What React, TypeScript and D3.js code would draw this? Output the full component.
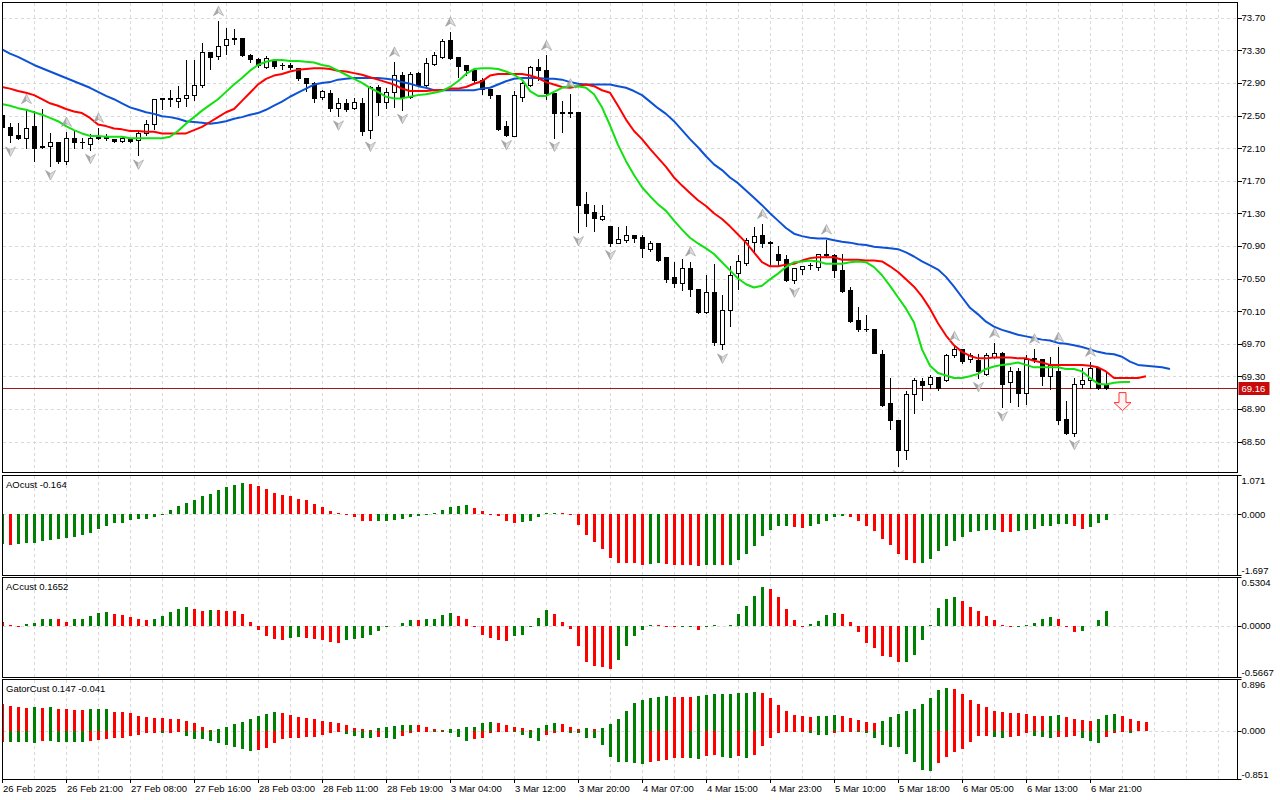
import * as React from 'react';
import * as d3 from 'd3';

// ---- data (H1 bars, index 0 = 26 Feb 2025) ----
const open = [72.51,72.36,72.26,72.23,72.37,72.13,72.13,72.18,71.94,72.23,
 72.17,72.15,72.22,72.23,72.21,72.19,72.22,72.20,72.29,72.40,
 72.70,72.71,72.68,72.71,72.75,72.88,73.28,73.23,73.36,73.44,
 73.45,73.24,73.19,73.10,73.17,73.12,73.12,73.08,72.96,72.90,
 72.73,72.77,72.59,72.65,72.59,72.65,72.32,72.85,72.66,72.79,
 73.00,72.73,73.02,72.87,73.13,73.22,73.43,73.22,73.12,73.06,
 72.94,72.83,72.75,72.37,72.25,72.73,72.87,73.10,73.06,72.77,
 72.54,72.53,72.54,71.42,71.31,71.23,71.15,70.94,70.97,71.03,
 71.01,70.86,70.94,70.76,70.52,70.45,70.63,70.37,70.09,70.34,
 69.70,70.11,70.57,70.69,70.95,71.03,70.94,70.80,70.74,70.48,
 70.62,70.66,70.64,70.80,70.79,70.60,70.36,69.99,69.88,69.88,
 69.57,68.97,68.76,68.40,69.08,69.24,69.20,69.29,69.25,69.56,
 69.63,69.51,69.50,69.33,69.54,69.58,69.23,69.36,69.09,69.51,
 69.51,69.30,69.37,68.78,68.60,69.20,69.26,69.40,69.20]
const high = [72.55,72.42,72.42,72.59,72.57,72.59,72.30,72.19,72.31,72.32,
 72.24,72.28,72.36,72.28,72.22,72.25,72.24,72.33,72.46,72.70,
 72.72,72.82,72.88,73.19,73.19,73.40,73.28,73.67,73.58,73.57,
 73.45,73.27,73.22,73.24,73.20,73.16,73.16,73.10,72.97,72.92,
 72.83,72.83,72.73,72.71,72.73,72.73,72.87,72.89,72.85,73.17,
 73.04,73.04,73.04,73.22,73.29,73.45,73.54,73.22,73.12,73.08,
 72.97,72.84,72.75,72.45,72.81,72.92,73.12,73.20,73.25,72.78,
 72.69,72.78,72.54,71.57,71.41,71.41,71.15,71.15,71.16,71.05,
 71.05,70.97,70.94,70.76,70.71,70.75,70.72,70.37,70.56,70.69,
 70.31,70.66,70.80,71.01,71.15,71.18,70.97,70.91,70.80,70.64,
 70.66,70.70,70.81,70.99,70.81,70.81,70.41,70.16,70.07,69.88,
 69.63,69.29,68.76,69.13,69.29,69.29,69.33,69.29,69.59,69.68,
 69.65,69.60,69.58,69.60,69.72,69.61,69.43,69.41,69.57,69.65,
 69.52,69.55,69.67,69.01,69.29,69.41,69.49,69.43,69.37]
const low = [72.30,72.17,72.21,72.10,71.94,72.10,71.88,71.92,71.90,72.10,
 72.10,72.08,72.21,72.20,72.18,72.17,72.17,72.01,72.26,72.34,
 72.58,72.62,72.61,72.62,72.69,72.85,73.07,73.19,73.25,73.38,
 73.23,73.16,73.10,73.08,73.08,73.07,73.07,72.94,72.80,72.66,
 72.70,72.55,72.49,72.55,72.58,72.26,72.23,72.51,72.59,72.60,
 72.57,72.71,72.86,72.85,73.12,73.20,73.19,72.97,73.00,72.90,
 72.76,72.71,72.32,72.25,72.25,72.68,72.86,72.93,72.70,72.23,
 72.30,72.48,71.07,71.14,71.08,71.22,70.90,70.93,70.95,70.95,
 70.76,70.84,70.72,70.46,70.39,70.36,70.29,70.08,70.08,69.68,
 69.63,69.92,70.37,70.66,70.84,70.89,70.66,70.66,70.47,70.44,
 70.56,70.62,70.61,70.78,70.52,70.34,69.97,69.86,69.86,69.58,
 68.94,68.65,68.20,68.29,68.85,69.01,69.16,69.13,69.24,69.54,
 69.46,69.47,69.28,69.32,69.53,68.92,68.98,68.93,68.96,69.47,
 69.19,69.14,68.71,68.59,68.57,69.16,69.16,69.14,69.14]
const close = [72.36,72.26,72.23,72.35,72.10,72.11,72.18,71.94,72.22,72.17,
 72.17,72.22,72.24,72.24,72.19,72.22,72.19,72.29,72.39,72.70,
 72.71,72.70,72.72,72.75,72.87,73.28,73.22,73.35,73.44,73.45,
 73.24,73.19,73.12,73.20,73.11,73.12,73.09,72.96,72.90,72.72,
 72.80,72.59,72.65,72.58,72.66,72.31,72.85,72.66,72.79,73.00,
 72.73,73.01,72.87,73.14,73.24,73.42,73.20,73.11,73.06,72.93,
 72.82,72.75,72.34,72.26,72.75,72.90,73.10,73.06,72.77,72.53,
 72.53,72.54,71.40,71.30,71.24,71.27,70.93,70.98,71.03,71.00,
 70.87,70.94,70.73,70.50,70.45,70.63,70.37,70.09,70.34,69.72,
 70.11,70.54,70.71,70.97,71.02,70.93,70.95,70.73,70.48,70.63,
 70.65,70.66,70.80,70.79,70.60,70.35,69.98,69.88,69.88,69.59,
 68.95,68.76,68.39,69.08,69.25,69.19,69.29,69.16,69.56,69.63,
 69.49,69.56,69.37,69.56,69.58,69.21,69.36,69.10,69.51,69.52,
 69.30,69.44,68.76,68.60,69.20,69.26,69.40,69.16,69.16]

// Alligator lines, already at their shifted bar positions
const jaw = [73.31,73.26,73.22,73.17,73.12,73.08,73.04,73.00,72.96,72.92,
 72.88,72.84,72.79,72.74,72.70,72.65,72.60,72.57,72.54,72.52,
 72.49,72.48,72.46,72.43,72.42,72.41,72.40,72.41,72.43,72.46,
 72.48,72.51,72.53,72.57,72.62,72.67,72.73,72.78,72.83,72.88,
 72.90,72.91,72.94,72.95,72.96,72.96,72.96,72.96,72.95,72.94,
 72.91,72.89,72.86,72.84,72.81,72.81,72.81,72.81,72.81,72.81,
 72.83,72.84,72.88,72.92,72.95,72.96,72.96,72.96,72.95,72.95,
 72.94,72.91,72.89,72.88,72.88,72.88,72.88,72.86,72.84,72.80,
 72.75,72.67,72.59,72.52,72.43,72.32,72.21,72.11,72.00,71.90,
 71.83,71.74,71.67,71.58,71.49,71.40,71.30,71.21,71.12,71.05,
 71.02,71.00,70.99,70.99,70.97,70.95,70.94,70.92,70.91,70.89,
 70.88,70.87,70.86,70.82,70.77,70.71,70.66,70.61,70.52,70.40,
 70.27,70.14,70.06,69.97,69.91,69.87,69.84,69.81,69.79,69.77,
 69.75,69.74,69.71,69.70,69.68,69.66,69.63,69.60,69.58,69.57,
 69.54,69.48,69.44,69.43,69.42,69.41,69.39]
const teeth = [72.85,72.83,72.80,72.78,72.75,72.70,72.65,72.62,72.58,72.55,
 72.53,72.47,72.39,72.37,72.34,72.33,72.31,72.31,72.30,72.30,
 72.28,72.28,72.28,72.28,72.32,72.36,72.42,72.48,72.54,72.58,
 72.68,72.78,72.88,72.95,72.99,73.01,73.04,73.06,73.07,73.08,
 73.08,73.07,73.05,73.04,73.02,73.00,72.97,72.94,72.91,72.88,
 72.83,72.80,72.80,72.80,72.81,72.81,72.83,72.83,72.85,72.89,
 72.92,72.99,73.01,73.01,73.01,73.01,72.99,72.96,72.91,72.88,
 72.85,72.84,72.86,72.88,72.86,72.81,72.78,72.62,72.45,72.31,
 72.21,72.09,71.98,71.87,71.74,71.64,71.55,71.46,71.39,71.30,
 71.23,71.14,71.04,70.94,70.82,70.70,70.65,70.65,70.67,70.68,
 70.72,70.75,70.76,70.76,70.76,70.73,70.73,70.73,70.72,70.72,
 70.71,70.65,70.58,70.49,70.40,70.28,70.13,69.95,69.80,69.68,
 69.60,69.55,69.52,69.52,69.53,69.53,69.53,69.52,69.52,69.49,
 69.47,69.44,69.44,69.44,69.44,69.44,69.43,69.41,69.36,69.28,
 69.28,69.28,69.28,69.30]
const lips = [72.64,72.62,72.59,72.57,72.54,72.51,72.47,72.43,72.37,72.32,
 72.28,72.25,72.25,72.24,72.24,72.24,72.22,72.22,72.22,72.22,
 72.22,72.24,72.31,72.40,72.48,72.56,72.63,72.70,72.79,72.88,
 72.96,73.05,73.12,73.16,73.18,73.18,73.17,73.17,73.16,73.15,
 73.12,73.10,73.05,73.00,72.95,72.90,72.84,72.79,72.73,72.71,
 72.71,72.73,72.75,72.76,72.78,72.80,72.85,72.92,73.01,73.07,
 73.08,73.08,73.07,73.04,73.00,72.94,72.80,72.74,72.74,72.79,
 72.84,72.86,72.86,72.84,72.76,72.60,72.38,72.14,71.94,71.77,
 71.62,71.51,71.41,71.33,71.21,71.10,71.00,70.93,70.87,70.80,
 70.70,70.60,70.50,70.43,70.39,70.41,70.49,70.56,70.64,70.70,
 70.71,70.72,70.71,70.68,70.68,70.68,70.70,70.71,70.70,70.64,
 70.54,70.41,70.27,70.13,69.96,69.63,69.43,69.34,69.31,69.28,
 69.28,69.30,69.33,69.39,69.42,69.44,69.45,69.47,69.44,69.41,
 69.41,69.41,69.41,69.39,69.39,69.36,69.28,69.21,69.20,69.22,
 69.23,69.23]

const fractalUp = [3, 8, 12, 27, 49, 56, 68, 71, 86, 95, 103, 119, 124, 129, 132, 136]
const fractalDown = [1, 6, 11, 17, 42, 46, 50, 63, 69, 72, 76, 90, 99, 112, 122, 125, 134]

const sellSignalBar = 140
const sellSignalPrice = 69.10
const lastPrice = 69.16

const aoValues = [-0.82,-0.85,-0.82,-0.80,-0.79,-0.74,-0.72,-0.69,-0.66,-0.62,
 -0.57,-0.51,-0.42,-0.33,-0.25,-0.23,-0.16,-0.14,-0.135,-0.08,
 -0.02,0.11,0.23,0.31,0.40,0.49,0.57,0.68,0.75,0.81,
 0.85,0.84,0.77,0.70,0.60,0.54,0.49,0.42,0.38,0.28,
 0.21,0.09,0.02,-0.03,-0.08,-0.18,-0.20,-0.19,-0.18,-0.17,
 -0.12,-0.08,-0.06,-0.02,0.02,0.12,0.21,0.24,0.25,0.17,
 0.09,-0.01,-0.06,-0.18,-0.23,-0.22,-0.20,-0.08,0.03,0.035,
 0.02,-0.03,-0.30,-0.57,-0.76,-0.96,-1.22,-1.34,-1.35,-1.36,
 -1.40,-1.38,-1.34,-1.38,-1.395,-1.40,-1.41,-1.43,-1.41,-1.40,
 -1.42,-1.40,-1.27,-1.09,-0.88,-0.60,-0.43,-0.34,-0.335,-0.36,
 -0.37,-0.33,-0.26,-0.18,-0.09,-0.04,-0.09,-0.18,-0.34,-0.46,
 -0.69,-0.86,-1.10,-1.27,-1.36,-1.34,-1.25,-1.03,-0.88,-0.74,
 -0.62,-0.49,-0.46,-0.45,-0.43,-0.49,-0.50,-0.46,-0.45,-0.41,
 -0.34,-0.33,-0.27,-0.265,-0.33,-0.41,-0.36,-0.25,-0.164]
const acValues = [0.045,0.01,-0.005,0.018,0.036,0.071,0.073,0.070,0.045,0.071,
 0.073,0.107,0.142,0.151,0.125,0.120,0.098,0.071,0.062,0.080,
 0.107,0.151,0.187,0.205,0.187,0.160,0.178,0.169,0.167,0.165,
 0.125,0.045,-0.045,-0.107,-0.142,-0.151,-0.134,-0.125,-0.134,-0.142,
 -0.160,-0.178,-0.187,-0.160,-0.142,-0.134,-0.098,-0.053,-0.018,0.003,
 0.036,0.062,0.061,0.071,0.073,0.116,0.142,0.107,0.071,-0.009,
 -0.098,-0.134,-0.160,-0.165,-0.107,-0.098,-0.018,0.089,0.169,0.125,
 0.045,-0.036,-0.223,-0.392,-0.436,-0.449,-0.472,-0.374,-0.223,-0.107,
 -0.045,0.009,0.004,-0.009,-0.018,-0.016,-0.013,-0.045,0.000,0.004,
 0.002,0.009,0.125,0.223,0.329,0.427,0.400,0.320,0.187,0.062,
 0.000,0.018,0.053,0.116,0.142,0.125,0.045,-0.071,-0.187,-0.240,
 -0.329,-0.347,-0.400,-0.398,-0.320,-0.160,0.009,0.196,0.294,0.312,
 0.276,0.205,0.160,0.107,0.062,0.009,-0.018,-0.009,0.009,0.027,
 0.071,0.098,0.071,-0.009,-0.071,-0.053,0.003,0.062,0.1652]
const gatorUpper = [0.461,0.435,0.409,0.392,0.409,0.392,0.409,0.383,0.374,0.370,
 0.357,0.374,0.376,0.378,0.331,0.322,0.305,0.261,0.235,0.226,
 0.224,0.200,0.198,0.174,0.131,0.061,0.009,0.026,0.070,0.113,
 0.157,0.200,0.252,0.287,0.322,0.309,0.270,0.235,0.218,0.200,
 0.174,0.157,0.131,0.096,0.052,0.026,0.009,0.044,0.061,0.078,
 0.096,0.100,0.096,0.061,0.026,0.022,0.024,0.030,0.070,0.074,
 0.139,0.157,0.139,0.096,0.070,0.052,0.009,0.044,0.096,0.131,
 0.113,0.061,0.026,0.044,0.026,0.052,0.113,0.200,0.339,0.479,
 0.539,0.574,0.592,0.600,0.596,0.592,0.587,0.600,0.622,0.635,
 0.637,0.644,0.653,0.661,0.670,0.666,0.566,0.448,0.339,0.274,
 0.257,0.235,0.257,0.265,0.270,0.257,0.226,0.183,0.157,0.144,
 0.170,0.235,0.291,0.344,0.378,0.465,0.566,0.713,0.740,0.722,
 0.639,0.539,0.461,0.409,0.348,0.326,0.309,0.305,0.287,0.261,
 0.257,0.261,0.270,0.239,0.204,0.183,0.174,0.204,0.274,0.287,
 0.261,0.204,0.165,0.147]
const gatorLower = [-0.191,-0.193,-0.194,-0.196,-0.221,-0.180,-0.184,-0.191,-0.193,-0.195,
 -0.204,-0.180,-0.163,-0.145,-0.134,-0.123,-0.087,-0.076,-0.047,-0.035,
 -0.047,-0.035,-0.017,-0.087,-0.145,-0.151,-0.180,-0.221,-0.251,-0.285,
 -0.326,-0.355,-0.338,-0.297,-0.221,-0.151,-0.134,-0.123,-0.110,-0.104,
 -0.076,-0.047,-0.029,-0.052,-0.087,-0.123,-0.134,-0.110,-0.134,-0.145,
 -0.087,-0.047,-0.017,-0.006,-0.008,-0.017,-0.047,-0.104,-0.174,-0.145,
 -0.123,-0.047,-0.029,-0.017,-0.029,-0.076,-0.134,-0.180,-0.076,-0.035,
 -0.029,-0.030,-0.035,-0.123,-0.134,-0.251,-0.461,-0.539,-0.545,-0.566,
 -0.588,-0.539,-0.531,-0.513,-0.483,-0.470,-0.483,-0.500,-0.435,-0.426,
 -0.465,-0.470,-0.448,-0.483,-0.426,-0.274,-0.134,-0.035,-0.017,-0.017,
 -0.006,-0.047,-0.076,-0.078,-0.035,-0.029,-0.006,-0.029,-0.047,-0.134,
 -0.250,-0.280,-0.291,-0.414,-0.542,-0.687,-0.699,-0.571,-0.454,-0.379,
 -0.320,-0.192,-0.093,-0.090,-0.105,-0.122,-0.105,-0.087,-0.047,-0.087,
 -0.105,-0.122,-0.111,-0.105,-0.087,-0.122,-0.181,-0.210,-0.105,-0.035,
 -0.029,-0.041]

const priceTicks = [73.70, 73.30, 72.90, 72.50, 72.10, 71.70, 71.30, 70.90, 70.50, 70.10, 69.70, 69.30, 68.90, 68.50]
const timeTickBars = [0, 8, 16, 24, 32, 40, 48, 56, 64, 72, 80, 88, 96, 104, 112, 120, 128, 136]
const timeTickLabels = ['26 Feb 2025', '26 Feb 21:00', '27 Feb 08:00', '27 Feb 16:00', '28 Feb 03:00',
  '28 Feb 11:00', '28 Feb 19:00', '3 Mar 04:00', '3 Mar 12:00', '3 Mar 20:00', '4 Mar 07:00',
  '4 Mar 15:00', '4 Mar 23:00', '5 Mar 10:00', '5 Mar 18:00', '6 Mar 05:00', '6 Mar 13:00', '6 Mar 21:00']

// ---- layout ----
const left = 2.5
const right = 1237.5
const panels = {
  main: { top: 2.5, bottom: 472.5 },
  ao: { top: 475.5, bottom: 575.5 },
  ac: { top: 577.5, bottom: 677.5 },
  gator: { top: 679.5, bottom: 779.5 },
}
const font = '"Liberation Sans", Arial, sans-serif'
const fs = 9.5
const gridColor = '#d9d9d9'
const upColor = '#008000'
const downColor = '#ff0000'

const x = d3.scaleLinear().domain([0, 154]).range([2, 2 + 8 * 154])
const yPrice = d3.scaleLinear().domain([68.5, 73.7]).range([441.5, 17.7])
const yAO = d3.scaleLinear().domain([-1.697, 1.071]).range([panels.ao.bottom, panels.ao.top])
const yAC = d3.scaleLinear().domain([-0.5667, 0.5304]).range([panels.ac.bottom, panels.ac.top])
const yGator = d3.scaleLinear().domain([-0.851, 0.896]).range([panels.gator.bottom, panels.gator.top])

const snap = (v: number) => Math.round(v) + 0.5

// vertical grid every 4 bars
const gridBars = d3.range(4, 155, 4).filter(i => x(i) < right - 2)

const Grid = ({ top, bottom }: { top: number, bottom: number }) => (
  <g stroke={gridColor} strokeDasharray="3,3" shapeRendering="crispEdges">
    {gridBars.map(i => <line key={i} x1={x(i) + 0.5} x2={x(i) + 0.5} y1={top} y2={bottom} />)}
  </g>
)

const Histogram = (props: { values: number[], y: d3.ScaleLinear<number, number>, firstUp: boolean, absolute?: boolean }) => {
  const { values, y, firstUp, absolute } = props
  const y0 = y(0)
  return (
    <g shapeRendering="crispEdges">
      {values.map((v, i) => {
        let up = firstUp
        if (i > 0) up = absolute ? Math.abs(v) > Math.abs(values[i - 1]) : v > values[i - 1]
        const yv = y(v)
        return <rect key={i} x={x(i) - 1} width={3} y={Math.min(y0, yv)} height={Math.max(Math.abs(yv - y0), 0.8)}
          fill={up ? upColor : downColor} />
      })}
    </g>
  )
}

const FractalArrow = ({ cx, cy, up }: { cx: number, cy: number, up: boolean }) => {
  const s = up ? 1 : -1
  const tip = -5 * s, base = 4.5 * s, notch = 1.5 * s
  return (
    <g transform={`translate(${cx},${cy})`}>
      <path d={`M0,${tip}L-5,${base}L0,${notch}Z`} fill="#a9a9a9" />
      <path d={`M0,${tip}L5,${base}L0,${notch}Z`} fill="#dcdcdc" />
      <path d={`M0,${tip}L-5,${base}L0,${notch}L5,${base}Z`} fill="none" stroke="#8c8c8c" strokeWidth={0.5} />
    </g>
  )
}

const AxisLabels = (props: { y: d3.ScaleLinear<number, number>, top: string, zero: string, bottom: string, panel: { top: number, bottom: number } }) => {
  const { y, top, zero, bottom, panel } = props
  return (
    <g fontFamily={font} fontSize={fs} fill="#000">
      <line x1={right} x2={right + 4} y1={panel.top} y2={panel.top} stroke="#000" />
      <text x={right + 4} y={panel.top + 8.5}>{top}</text>
      <line x1={right} x2={right + 4} y1={snap(y(0))} y2={snap(y(0))} stroke="#000" />
      <text x={right + 4} y={y(0) + 3.5}>{zero}</text>
      <line x1={right} x2={right + 4} y1={panel.bottom} y2={panel.bottom} stroke="#000" />
      <text x={right + 4} y={panel.bottom - 2}>{bottom}</text>
    </g>
  )
}

export default function App() {
  const clipId = 'mainClip'
  const line = (data: number[]) => d3.line<number>().x((_, i) => x(i)).y(d => yPrice(d))(data) || ''
  const pY = yPrice(lastPrice)
  const sx = x(sellSignalBar) + 0.5
  const sy = yPrice(sellSignalPrice)

  return (
    <div style={{ position: 'absolute', left: 0, top: 0 }}>
      <svg width={1280} height={800} style={{ display: 'block', background: '#fff' }}>
        <defs>
          <clipPath id={clipId}>
            <rect x={left + 0.5} y={panels.main.top + 0.5} width={right - left - 1} height={panels.main.bottom - panels.main.top - 1} />
          </clipPath>
          {(['ao', 'ac', 'gator'] as const).map(k => (
            <clipPath id={`clip-${k}`} key={k}>
              <rect x={left + 0.5} y={panels[k].top + 0.5} width={right - left - 1} height={panels[k].bottom - panels[k].top - 1} />
            </clipPath>
          ))}
        </defs>

        {/* main price panel */}
        <Grid top={panels.main.top} bottom={panels.main.bottom} />
        <g stroke={gridColor} strokeDasharray="3,3" shapeRendering="crispEdges">
          {priceTicks.map(p => <line key={p} x1={left} x2={right} y1={snap(yPrice(p))} y2={snap(yPrice(p))} />)}
        </g>

        <g clipPath={`url(#${clipId})`}>
          <line x1={left} x2={right} y1={snap(pY)} y2={snap(pY)} stroke="#a01818" shapeRendering="crispEdges" />
          <g shapeRendering="crispEdges" stroke="#000">
            {open.map((o, i) => {
              const c = close[i]
              const cx = x(i) + 0.5
              const top = snap(yPrice(Math.max(o, c)))
              const bot = snap(yPrice(Math.min(o, c)))
              return (
                <g key={i}>
                  <line x1={cx} x2={cx} y1={snap(yPrice(high[i]))} y2={snap(yPrice(low[i]))} />
                  {bot - top < 1
                    ? <line x1={cx - 2.5} x2={cx + 2.5} y1={top} y2={top} />
                    : <rect x={cx - 2} y={top} width={4} height={bot - top} fill={c >= o ? '#fff' : '#000'} />}
                </g>
              )
            })}
          </g>
          <g fill="none" strokeWidth={2} strokeLinejoin="round">
            <path d={line(jaw)} stroke="#0d52d6" />
            <path d={line(teeth)} stroke="#ff0000" />
            <path d={line(lips)} stroke="#11e011" />
          </g>
          {fractalUp.map(i => <FractalArrow key={'u' + i} cx={x(i) + 0.5} cy={yPrice(high[i]) - 9} up={true} />)}
          {fractalDown.map(i => <FractalArrow key={'d' + i} cx={x(i) + 0.5} cy={yPrice(low[i]) + 9} up={false} />)}
          <path d={`M${sx - 3.5},${sy}H${sx + 3.5}V${sy + 10}H${sx + 8.5}L${sx},${sy + 18}L${sx - 8.5},${sy + 10}H${sx - 3.5}Z`}
            fill="#fff2f2" stroke="#ff3030" strokeWidth={1} />
        </g>
        <rect x={left} y={panels.main.top} width={right - left} height={panels.main.bottom - panels.main.top}
          fill="none" stroke="#000" shapeRendering="crispEdges" />

        {/* price axis */}
        <g fontFamily={font} fontSize={fs}>
          {priceTicks.map(p => (
            <g key={p}>
              <line x1={right} x2={right + 4} y1={snap(yPrice(p))} y2={snap(yPrice(p))} stroke="#000" shapeRendering="crispEdges" />
              <text x={right + 4} y={yPrice(p) + 3.5}>{p.toFixed(2)}</text>
            </g>
          ))}
          <rect x={right + 1} y={snap(pY) - 6.5} width={31} height={13} fill="#c80a0a" />
          <text x={right + 4} y={pY + 4} fill="#fff">{lastPrice.toFixed(2)}</text>
        </g>

        {/* AO panel */}
        <Grid top={panels.ao.top} bottom={panels.ao.bottom} />
        <line x1={left} x2={right} y1={snap(yAO(0))} y2={snap(yAO(0))} stroke={gridColor} strokeDasharray="3,3" shapeRendering="crispEdges" />
        <g clipPath="url(#clip-ao)"><Histogram values={aoValues} y={yAO} firstUp={true} /></g>
        <rect x={left} y={panels.ao.top} width={right - left} height={panels.ao.bottom - panels.ao.top} fill="none" stroke="#000" shapeRendering="crispEdges" />
        <text x={6} y={488} fontFamily={font} fontSize={fs}>{`AOcust ${aoValues[aoValues.length - 1]}`}</text>
        <AxisLabels y={yAO} top="1.071" zero="0.000" bottom="-1.697" panel={panels.ao} />

        {/* AC panel */}
        <Grid top={panels.ac.top} bottom={panels.ac.bottom} />
        <line x1={left} x2={right} y1={snap(yAC(0))} y2={snap(yAC(0))} stroke={gridColor} strokeDasharray="3,3" shapeRendering="crispEdges" />
        <g clipPath="url(#clip-ac)"><Histogram values={acValues} y={yAC} firstUp={false} /></g>
        <rect x={left} y={panels.ac.top} width={right - left} height={panels.ac.bottom - panels.ac.top} fill="none" stroke="#000" shapeRendering="crispEdges" />
        <text x={6} y={590} fontFamily={font} fontSize={fs}>{`ACcust ${acValues[acValues.length - 1]}`}</text>
        <AxisLabels y={yAC} top="0.5304" zero="0.0000" bottom="-0.5667" panel={panels.ac} />

        {/* Gator panel */}
        <Grid top={panels.gator.top} bottom={panels.gator.bottom} />
        <line x1={left} x2={right} y1={snap(yGator(0))} y2={snap(yGator(0))} stroke={gridColor} strokeDasharray="3,3" shapeRendering="crispEdges" />
        <g clipPath="url(#clip-gator)">
          <Histogram values={gatorUpper} y={yGator} firstUp={false} />
          <Histogram values={gatorLower} y={yGator} firstUp={false} absolute={true} />
        </g>
        <rect x={left} y={panels.gator.top} width={right - left} height={panels.gator.bottom - panels.gator.top} fill="none" stroke="#000" shapeRendering="crispEdges" />
        <text x={6} y={692} fontFamily={font} fontSize={fs}>{`GatorCust ${gatorUpper[gatorUpper.length - 1]} ${gatorLower[gatorLower.length - 1]}`}</text>
        <AxisLabels y={yGator} top="0.896" zero="0.000" bottom="-0.851" panel={panels.gator} />

        {/* time axis */}
        <g fontFamily={font} fontSize={fs}>
          {timeTickBars.map((b, k) => (
            <g key={b}>
              <line x1={x(b) + 0.5} x2={x(b) + 0.5} y1={panels.gator.bottom} y2={panels.gator.bottom + 3} stroke="#000" shapeRendering="crispEdges" />
              <text x={x(b) + 1} y={792}>{timeTickLabels[k]}</text>
            </g>
          ))}
        </g>
      </svg>
    </div>
  )
}
